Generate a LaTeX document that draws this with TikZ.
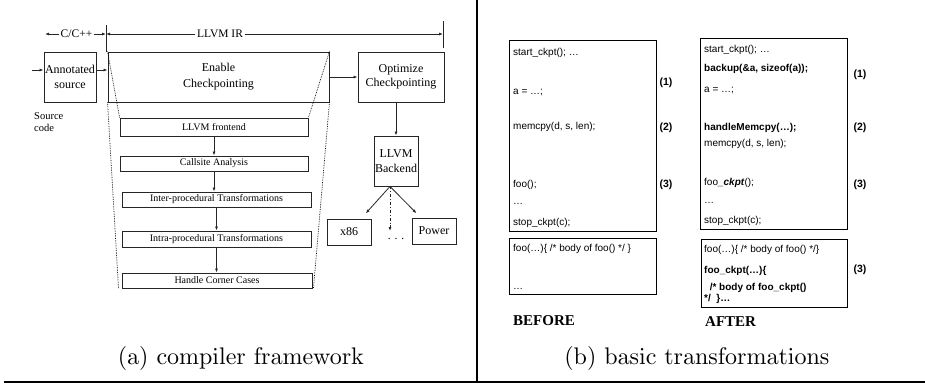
\documentclass[tikz,border=0pt]{standalone}
\usepackage{fontspec}
\newfontfamily\timesfam{Liberation Serif}
\newfontfamily\arialfam{Liberation Sans}
\font\capfont=cmr10 at 24pt
\usetikzlibrary{arrows.meta,positioning}
\tikzset{
  basic/.style  = {draw=black!85, line width=0.9pt, inner sep=0pt, align=center,
                   font=\timesfam\fontsize{12}{14.5}\selectfont},
  stage/.style  = {basic, font=\timesfam\fontsize{10}{12}\selectfont},
  ruler/.style  = {inner sep=1.5pt, font=\timesfam\fontsize{11.5}{13}\selectfont},
  flow/.style   = {-{Latex[length=4pt,width=3pt]}, line width=0.8pt, draw=black!85},
  funnel/.style = {densely dotted, line width=0.7pt},
  panel/.style  = {draw, line width=0.9pt, inner sep=0pt},
  code/.style   = {anchor=base west, inner sep=0pt, font=\arialfam\fontsize{10}{12}\selectfont},
  bcode/.style  = {code, font=\arialfam\bfseries\fontsize{10}{12}\selectfont},
  tag/.style    = {inner sep=0pt, font=\arialfam\bfseries\fontsize{10.5}{12}\selectfont},
  head/.style   = {anchor=base west, inner sep=0pt, font=\timesfam\bfseries\fontsize{15}{17}\selectfont}
}

\begin{document}
\begin{tikzpicture}[x=1pt, y=-1pt]
\useasboundingbox (0,0) rectangle (925,386);

% (a) top row of the framework
\node[basic, minimum width=52pt, minimum height=50pt] (src) at (70,77) {Annotated\\source};
\node[basic, minimum width=221pt, minimum height=50pt, font=\timesfam\fontsize{12}{16}\selectfont] (enable) at (218.5,77) {Enable\\Checkpointing};
\node[basic, minimum width=86pt, minimum height=50pt] (opt) at (401,77) {Optimize\\Checkpointing};
\node[basic, minimum width=44pt, minimum height=50pt] (be) at (396,161) {LLVM\\Backend};
\node[basic, minimum width=44pt, minimum height=26pt] (x86) at (349,232) {x86};
\node[basic, minimum width=44pt, minimum height=26pt] (pow) at (434,231) {Power};
\node[ruler] (more) at (396,239) {.\,\,.\,\,.};
\node[anchor=west, align=left, inner sep=0pt, font=\timesfam\fontsize{10.5}{12.5}\selectfont] (srclbl) at (34,122) {Source\\code};

% passes inside Enable Checkpointing
\node[stage, minimum width=188pt, minimum height=18pt] (p1) at (214,127) {LLVM frontend};
\node[stage, minimum width=188pt, minimum height=15pt] (p2) at (214,163.5) {Callsite Analysis};
\node[stage, minimum width=189pt, minimum height=15pt] (p3) at (216.5,199.5) {Inter-procedural Transformations};
\node[stage, minimum width=189pt, minimum height=16pt] (p4) at (216.5,239) {Intra-procedural Transformations};
\node[stage, minimum width=190pt, minimum height=15pt] (p5) at (217,280.5) {Handle Corner Cases};

\draw[flow] (p1.south) -- (p1.south |- p2.north);
\draw[flow] (p2.south) -- (p2.south |- p3.north);
\draw[flow] (p3.south) -- (p3.south |- p4.north);
\draw[flow] (p4.south) -- (p4.south |- p5.north);

% the funnel
\draw[funnel] (enable.north west) -- (p1.north west);
\draw[funnel] (enable.north east) -- (p1.north east);
\draw[funnel] (enable.south west) -- ([xshift=-3pt]p5.south west);
\draw[funnel] (enable.south east) -- ([xshift=1pt]p5.south east);

% language ruler
\coordinate (cl) at (45,34);
\coordinate (t1) at (106,34);
\coordinate (t2) at (443,34);
\node[ruler] (cc) at (76.5,34) {C/C++};
\node[ruler] (ir) at (220,34) {LLVM IR};
\draw[flow] (cc.west) -- (cl);
\draw[flow] (cc.east) -- (t1);
\draw[flow] (ir.west) -- (t1);
\draw[flow] (ir.east) -- (t2);
\draw[line width=0.9pt, black!85] (106,25) -- (106,52);
\draw[line width=0.9pt, black!85] (443,21) -- (443,48);

% connectors
\coordinate (in) at (32,70);
\coordinate (dd) at (390,231);
\draw[flow] (in) -- (in -| src.west);
\draw[flow] (in -| src.east) -- (in -| enable.west);
\draw[flow] (enable) -- (opt);
\draw[flow] (opt.south -| be) -- (be.north);
\draw[flow, shorten >=7pt] ([xshift=-6pt]be.south) -- (x86);
\draw[flow, shorten >=6pt] ([xshift=-6pt]be.south) -- (pow);
\draw[flow, dash dot] ([xshift=-6pt]be.south) -- (dd);

% divider and rule
\draw[line width=2pt] (477,0) -- (477,382);
\draw[line width=1.3pt] (4,382) -- (925,382);

% (b) BEFORE
\node[panel, minimum width=147pt, minimum height=191pt] (bmain) at (582.5,135.5) {};
\node[panel, minimum width=147pt, minimum height=56pt] (bfun) at (582.5,266) {};
\node[code] (b1) at (513,55.5) {start\_ckpt(); …};
\node[code] (b2) at (513,94.5) {a = …;};
\node[code] (b3) at (513,129.5) {memcpy(d, s, len);};
\node[code] (b4) at (513,187.5) {foo();};
\node[code] (b5) at (513,204) {…};
\node[code] (b6) at (513,225.5) {stop\_ckpt(c);};
\node[code] (b7) at (513,251.5) {foo(…)\{ /* body of foo() */ \}};
\node[code] (b8) at (513,289) {…};
\node[tag] (bt1) at (666,83) {(1)};
\node[tag] (bt2) at (666,128) {(2)};
\node[tag] (bt3) at (666,185) {(3)};
\node[head] (before) at (513,325) {BEFORE};

% (b) AFTER
\node[panel, minimum width=147pt, minimum height=191pt] (amain) at (773.5,133.5) {};
\node[panel, minimum width=146pt, minimum height=68pt] (afun) at (774,273) {};
\node[code] (a1) at (704,52.5) {start\_ckpt(); …};
\node[bcode] (a2) at (704,71.5) {backup(\&a, sizeof(a));};
\node[code] (a3) at (704,92.5) {a = …;};
\node[bcode] (a4) at (704,130.5) {handleMemcpy(…);};
\node[code] (a5) at (704,146.5) {memcpy(d, s, len);};
\node[code] (a6) at (704,185.5) {foo\textbf{\textit{\_ckpt}}();};
\node[code] (a7) at (704,203) {…};
\node[code] (a8) at (704,223.5) {stop\_ckpt(c);};
\node[code] (a9) at (704,252.5) {foo(…)\{ /* body of foo() */\}};
\node[bcode] (a10) at (704,273.5) {foo\_ckpt(…)\{};
\node[bcode] (a11) at (704,290.5) {\ \ /* body of foo\_ckpt()};
\node[bcode] (a12) at (704,301) {*/\ \ \}…};
\node[tag] (at1) at (860,75) {(1)};
\node[tag] (at2) at (860,128) {(2)};
\node[tag] (at3) at (860,185) {(3)};
\node[tag] (at4) at (860,270) {(3)};
\node[head] (after) at (705,326) {AFTER};

% captions
\node[anchor=base, inner sep=0pt, font=\capfont] (capa) at (241,364) {(a) compiler framework};
\node[anchor=base, inner sep=0pt, font=\capfont] (capb) at (697,364) {(b) basic transformations};
\end{tikzpicture}
\end{document}
